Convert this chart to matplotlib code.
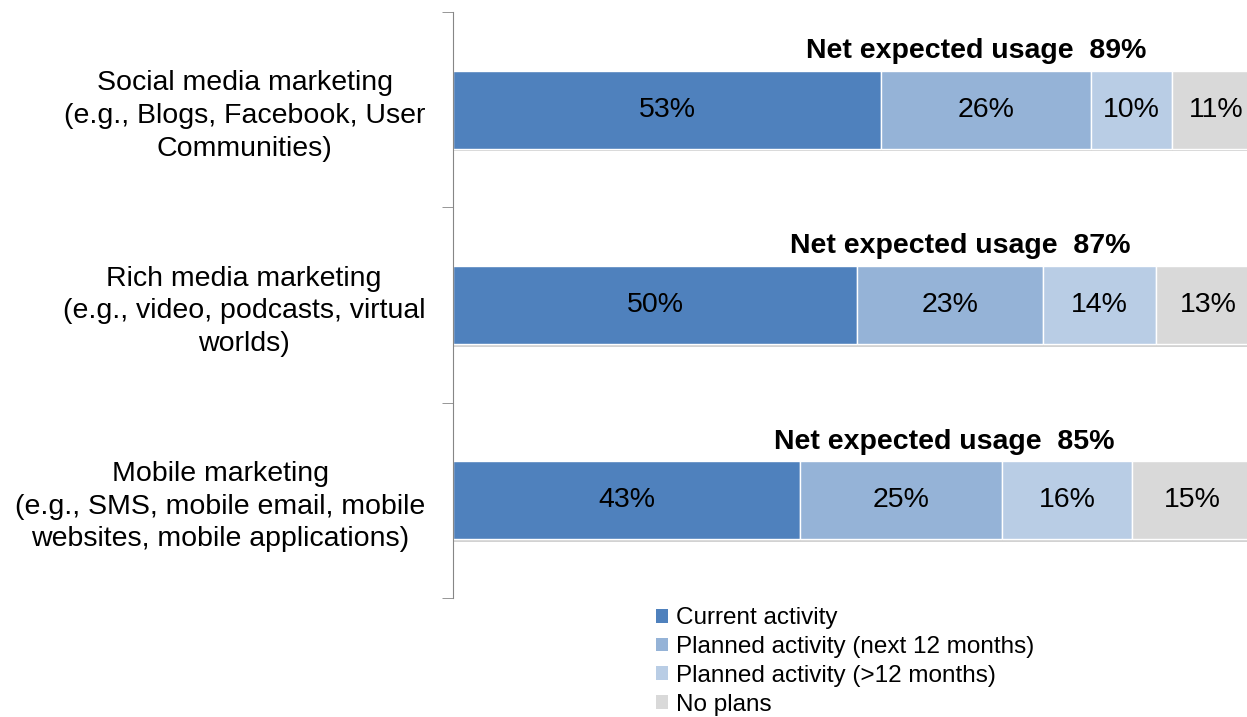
import numpy as np
import matplotlib.pyplot as plt
import matplotlib.patheffects as pe
from matplotlib.patches import Patch

plt.rcParams.update({
    'font.family': ['Liberation Sans', 'DejaVu Sans'],
    'font.size': 20.5,
})

# Data
categories = ['Social media marketing\n(e.g., Blogs, Facebook, User\nCommunities)',
              'Rich media marketing\n(e.g., video, podcasts, virtual\nworlds)',
              'Mobile marketing\n(e.g., SMS, mobile email, mobile\nwebsites, mobile applications)']
series_names = ['Current activity', 'Planned activity (next 12 months)',
                'Planned activity (>12 months)', 'No plans']
current = [53, 50, 43]
planned_12 = [26, 23, 25]
planned_later = [10, 14, 16]
no_plans = [11, 13, 15]
net_usage = [89, 87, 85]

colors = ['#4F81BD', '#95B3D7', '#B9CDE5', '#D9D9D9']

fig = plt.figure(figsize=(12.47, 7.17), dpi=100)
ax = fig.add_axes([0.3633, 0.166, 0.6479, 0.8173])

y = np.arange(len(categories))
left = np.zeros(len(categories))
shadow = [pe.SimplePatchShadow(offset=(0, -2), shadow_rgbFace='#808080', alpha=0.35), pe.Normal()]
for name, vals, col in zip(series_names, [current, planned_12, planned_later, no_plans], colors):
    bars = ax.barh(y, vals, left=left, height=0.4, color=col, edgecolor='white', linewidth=1)
    for b in bars:
        b.set_path_effects(shadow)
    for yi, l, v in zip(y, left, vals):
        ax.text(l + v / 2, yi, f'{v}%', ha='center', va='center', fontsize=20.5)
    left += np.array(vals)

# Net expected usage
for yi, n in zip(y, net_usage):
    ax.text(n - 24.2, yi - 0.30, f'Net expected usage  {n}%', ha='center', va='center',
            fontsize=20.5, fontweight='bold')

ax.set_xlim(0, 100)
ax.set_ylim(2.5, -0.5)
ax.set_yticks(y)
ax.set_yticklabels(categories, multialignment='center', linespacing=1.33)
ax.set_yticks([-0.5, 0.5, 1.5, 2.5], minor=True)
ax.tick_params(axis='y', which='major', length=0, pad=20, labelsize=20.5)
ax.tick_params(axis='y', which='minor', length=8, color='#868686')
ax.set_xticks([])
for s in ['top', 'right', 'bottom']:
    ax.spines[s].set_visible(False)
ax.spines['left'].set_color('#868686')

handles = [Patch(facecolor=c, edgecolor='none', label=n) for c, n in zip(colors, series_names)]
ax.legend(handles=handles, loc='upper left', bbox_to_anchor=(0.251, -0.016), frameon=False,
          fontsize=17.5, handlelength=0.5, handleheight=0.5, handletextpad=0.35,
          labelspacing=0.28, borderpad=0, borderaxespad=0)

fig.savefig('out.png', dpi=100)
